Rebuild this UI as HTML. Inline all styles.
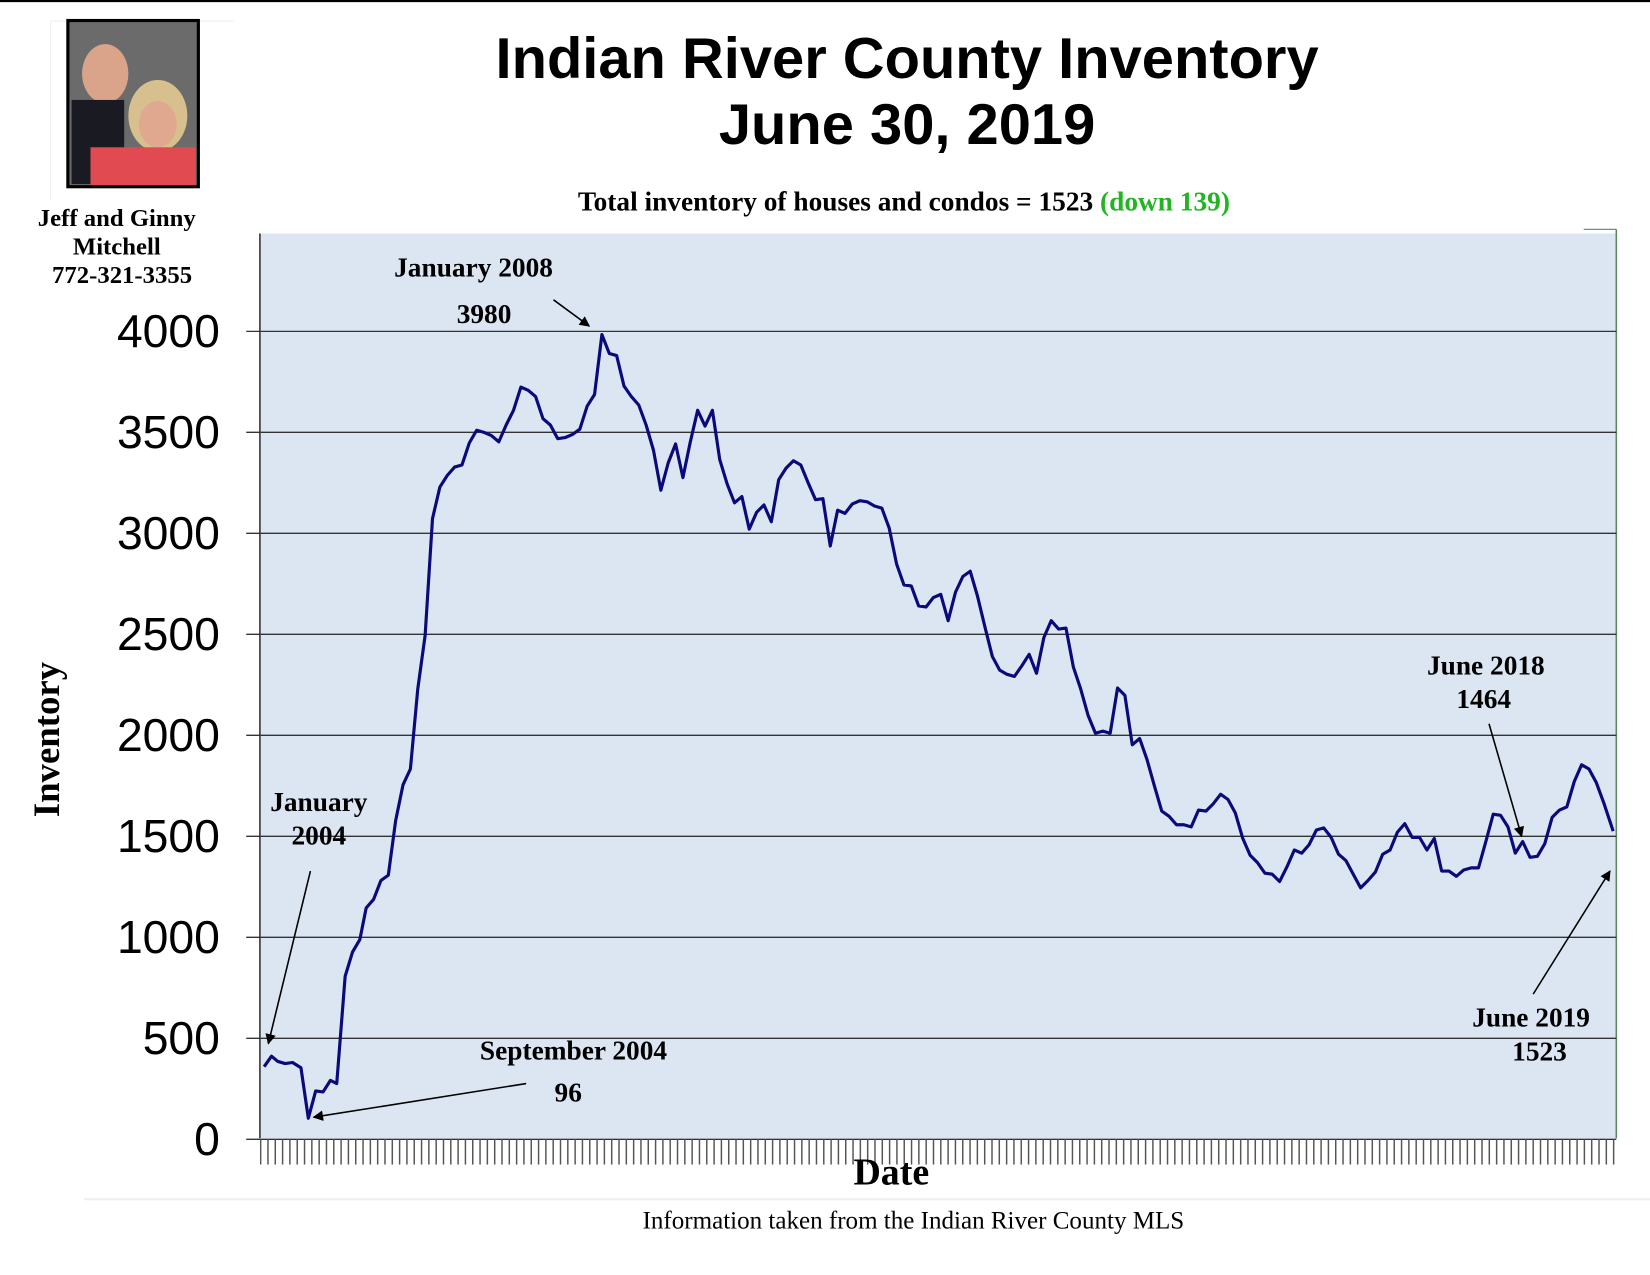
<!DOCTYPE html>
<html><head><meta charset="utf-8"><style>
html,body{margin:0;padding:0;background:#fff;}
svg{display:block;}
.s{font-family:"Liberation Serif",serif;font-weight:bold;fill:#000;}
.a{font-family:"Liberation Sans",sans-serif;fill:#000;}
</style></head><body>
<svg width="1650" height="1275" viewBox="0 0 1568 1212" preserveAspectRatio="none" xmlns="http://www.w3.org/2000/svg">
<defs>
<pattern id="tk" x="247" y="0" width="6.95" height="30" patternUnits="userSpaceOnUse"><rect x="0" y="0" width="1.4" height="30" fill="#555"/></pattern>
<marker id="ar" markerWidth="10" markerHeight="10" refX="9" refY="5" orient="auto" markerUnits="userSpaceOnUse"><path d="M0,0 L10,5 L0,10 z" fill="#000"/></marker>
</defs>
<line x1="0" y1="1" x2="1568" y2="1" stroke="#000" stroke-width="2"/>
<line x1="48" y1="20" x2="222" y2="20" stroke="#eee"/>
<line x1="48" y1="20" x2="48" y2="190" stroke="#eee"/>
<rect x="63" y="18" width="127" height="161" fill="#000"/>
<rect x="66" y="21" width="121" height="155" fill="#6b6b6b"/>
<ellipse cx="100" cy="70" rx="22" ry="28" fill="#d9a48a"/>
<rect x="68" y="95" width="50" height="80" fill="#1a1a22"/>
<ellipse cx="150" cy="110" rx="28" ry="34" fill="#d8c08e"/>
<ellipse cx="150" cy="118" rx="18" ry="22" fill="#e0a88e"/>
<rect x="86" y="140" width="100" height="36" fill="#e24a52"/>
<text class="s" x="111" y="215" font-size="23.5" text-anchor="middle">Jeff and Ginny</text>
<text class="s" x="111" y="242" font-size="23.5" text-anchor="middle">Mitchell</text>
<text class="s" x="116" y="269" font-size="23.5" text-anchor="middle">772-321-3355</text>
<text class="a" x="862" y="74" font-size="55" font-weight="bold" text-anchor="middle">Indian River County Inventory</text>
<text class="a" x="862" y="137" font-size="55" font-weight="bold" text-anchor="middle">June 30, 2019</text>
<text class="s" x="859" y="200" font-size="26" text-anchor="middle">Total inventory of houses and condos = 1523 <tspan fill="#22b422">(down 139)</tspan></text>
<rect x="247" y="222" width="1289" height="860" fill="#dce6f2"/>
<line x1="1536" y1="218" x2="1536" y2="1082" stroke="#5a8a5a" stroke-width="1.5"/>
<line x1="1505" y1="218" x2="1536" y2="218" stroke="#5a8a5a" stroke-width="1"/>
<line x1="247" y1="222" x2="247" y2="1082" stroke="#333" stroke-width="1.5"/>
<g stroke="#333" stroke-width="1.3">
<line x1="234" y1="315" x2="1536" y2="315"/><line x1="234" y1="411" x2="1536" y2="411"/>
<line x1="234" y1="507" x2="1536" y2="507"/><line x1="234" y1="603" x2="1536" y2="603"/>
<line x1="234" y1="699" x2="1536" y2="699"/><line x1="234" y1="795" x2="1536" y2="795"/>
<line x1="234" y1="891" x2="1536" y2="891"/><line x1="234" y1="987" x2="1536" y2="987"/>
<line x1="234" y1="1083" x2="1536" y2="1083"/>
</g>
<rect x="247" y="1083" width="1290" height="24" fill="url(#tk)"/>
<g class="a" font-size="44" text-anchor="end">
<text x="209" y="330">4000</text><text x="209" y="426">3500</text><text x="209" y="522">3000</text>
<text x="209" y="618">2500</text><text x="209" y="714">2000</text><text x="209" y="810">1500</text>
<text x="209" y="906">1000</text><text x="209" y="1002">500</text><text x="209" y="1098">0</text>
</g>
<text class="s" font-size="35" transform="translate(56,703) rotate(-90)" text-anchor="middle">Inventory</text>
<text class="s" x="847" y="1126" font-size="36" text-anchor="middle">Date</text>
<line x1="80" y1="1140" x2="1568" y2="1140" stroke="#eee" stroke-width="2"/>
<text x="868" y="1168" font-size="23.8" font-family="Liberation Serif,serif" text-anchor="middle">Information taken from the Indian River County MLS</text>
<polyline fill="none" stroke="#0a0a7a" stroke-width="3" stroke-linejoin="round" points="251,1014 258,1004 264,1009 271,1011 278,1010 286,1015 293,1063 300,1037 307,1038 314,1027 320,1030 328,928 335,905 342,893 348,863 355,855 362,837 369,832 376,780 383,746 390,731 397,655 404,604 411,493 418,463 425,452 432,444 439,442 446,421 453,409 460,411 467,414 474,420 481,404 488,390 495,368 502,371 509,377 516,398 523,404 530,417 537,416 544,413 551,408 558,386 565,375 572,318 579,336 586,338 593,367 600,377 607,385 614,404 621,428 628,466 635,440 642,422 649,454 656,420 663,390 670,405 677,390 684,437 691,460 698,478 705,472 712,503 719,487 726,480 733,496 740,456 747,445 754,438 761,442 768,459 775,475 782,474 789,519 796,485 803,488 810,479 817,476 824,477 831,481 838,483 845,502 852,536 859,556 866,557 873,576 880,577 887,568 894,565 901,590 908,563 915,548 922,543 929,567 936,596 943,624 950,637 957,641 964,643 971,633 978,622 985,640 992,606 999,590 1006,598 1013,597 1020,634 1027,655 1034,680 1041,697 1048,695 1055,697 1062,654 1069,661 1076,708 1083,702 1090,722 1097,747 1104,771 1111,776 1118,784 1125,784 1132,786 1139,770 1146,771 1153,764 1160,755 1167,760 1174,773 1181,797 1188,813 1195,820 1202,830 1209,831 1216,838 1223,824 1230,808 1237,811 1244,803 1251,789 1258,787 1265,796 1272,812 1279,818 1286,831 1293,844 1300,837 1307,829 1314,812 1321,808 1328,791 1335,783 1342,796 1349,796 1356,808 1363,797 1370,828 1377,828 1384,833 1391,827 1398,825 1405,825 1412,800 1419,774 1426,775 1433,786 1440,811 1447,800 1454,815 1461,814 1468,802 1475,777 1482,770 1489,767 1496,743 1503,727 1510,731 1517,744 1524,763 1533,790"/>
<g class="s" font-size="26" text-anchor="middle">
<text x="450" y="263">January 2008</text><text x="460" y="307">3980</text>
<text x="303" y="771">January</text><text x="303" y="803">2004</text>
<text x="545" y="1007">September 2004</text><text x="540" y="1047">96</text>
<text x="1412" y="641">June 2018</text><text x="1410" y="673">1464</text>
<text x="1455" y="976">June 2019</text><text x="1463" y="1008">1523</text>
</g>
<g stroke="#000" stroke-width="1.5" marker-end="url(#ar)">
<line x1="526" y1="285" x2="560" y2="310"/>
<line x1="295" y1="828" x2="255" y2="992"/>
<line x1="500" y1="1030" x2="298" y2="1062"/>
<line x1="1415" y1="688" x2="1446" y2="795"/>
<line x1="1457" y1="945" x2="1530" y2="828"/>
</g>
</svg>
</body></html>
